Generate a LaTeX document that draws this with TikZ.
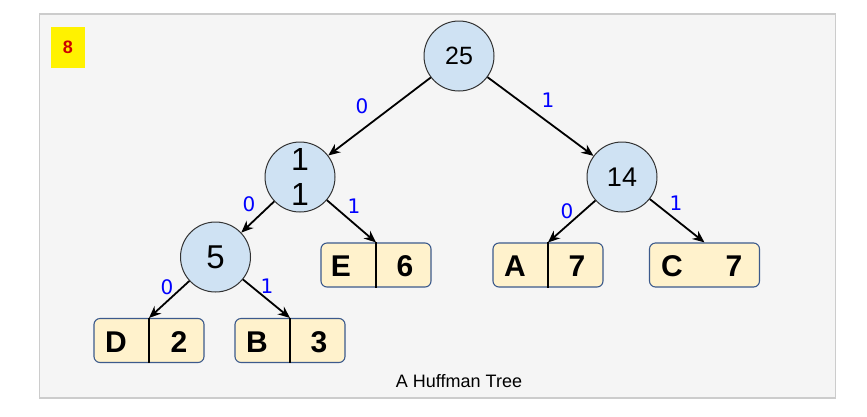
\documentclass[tikz,border=0pt]{standalone}
\usepackage{fontspec}
\setmainfont{Liberation Sans}
\newfontfamily\lblfont{DejaVu Sans}
\usetikzlibrary{arrows.meta}
\definecolor{panelbg}{HTML}{F5F5F5}
\definecolor{panelbd}{HTML}{CCCCCC}
\definecolor{circfill}{HTML}{CFE2F3}
\definecolor{leaffill}{HTML}{FFF2CC}
\definecolor{leafbd}{HTML}{3C5A8C}
\definecolor{badgered}{HTML}{CC0000}
\begin{document}
\begin{tikzpicture}[x=1pt,y=-1pt,
 innernode/.style={circle,draw=black!80,fill=circfill,line width=1pt,minimum size=70pt,inner sep=0pt},
 leaf/.style={rectangle,rounded corners=6pt,draw=leafbd,fill=leaffill,line width=1.1pt,minimum width=110pt,minimum height=44pt,inner sep=0pt},
 ltxt/.style={font=\fontsize{30}{32}\selectfont\bfseries,inner sep=0pt},
 bit/.style={font=\lblfont\fontsize{20}{22}\selectfont,text=blue,inner sep=0pt},
 arr/.style={-{Stealth[length=12pt,width=10pt]},line width=1.8pt},
 divider/.style={draw=black,line width=1.1pt}]
\useasboundingbox (0,0) rectangle (867,416);
\node[draw=panelbd,fill=panelbg,line width=1.2pt,minimum width=796pt,minimum height=384pt,inner sep=0pt] (panel) at (437.5,206) {};
\node[fill=yellow,minimum width=34pt,minimum height=41pt,inner sep=0pt,text=badgered,font=\fontsize{18}{20}\selectfont\bfseries] (badge) at (68,47.5) {8};
% internal nodes
\node[innernode,font=\fontsize{25}{27}\selectfont] (n25) at (459,56) {25};
\node[innernode,font=\fontsize{32}{35}\selectfont,align=center] (n11) at (300,177) {1\\1};
\node[innernode,font=\fontsize{27}{29}\selectfont] (n14) at (622,177) {14};
\node[innernode,font=\fontsize{33}{35}\selectfont] (n5) at (215.5,257) {5};
% leaves
\node[leaf] (D) at (149,340.5) {};
\node[leaf] (B) at (290,340.5) {};
\node[leaf] (E) at (376,265) {};
\node[leaf] (A) at (548,265) {};
\node[leaf] (C) at (704.5,265) {};
\draw[divider] (D.north) -- (D.south);
\draw[divider] (B.north) -- (B.south);
\draw[divider] (E.north) -- (E.south);
\draw[divider] (A.north) -- (A.south);
\node[ltxt] (Dl) at (116,342) {D};
\node[ltxt] (Dv) at (179,342) {2};
\node[ltxt] (Bl) at (257,342) {B};
\node[ltxt] (Bv) at (319,342) {3};
\node[ltxt] (El) at (341,266) {E};
\node[ltxt] (Ev) at (405,266) {6};
\node[ltxt] (Al) at (515,266) {A};
\node[ltxt] (Av) at (577,266) {7};
\node[ltxt] (Cl) at (672,266) {C};
\node[ltxt] (Cv) at (734,266) {7};
% edges
\draw[arr] (n25) -- (n11);
\draw[arr] (n25) -- (n14);
\draw[arr] (n11) -- (n5);
\draw[arr] (n11) -- (E.north);
\draw[arr] (n14) -- (A.north);
\draw[arr] (n14) -- (C.north);
\draw[arr] (n5) -- (D.north);
\draw[arr] (n5) -- (B.north);
% bit labels
\node[bit] (b1) at (362,106) {0};
\node[bit] (b2) at (548,100) {1};
\node[bit] (b3) at (249,204) {0};
\node[bit] (b4) at (354,206) {1};
\node[bit] (b5) at (567,211) {0};
\node[bit] (b6) at (676,203) {1};
\node[bit] (b7) at (167,287) {0};
\node[bit] (b8) at (267,286) {1};
% caption
\node[font=\fontsize{18}{20}\selectfont] (cap) at (459,381) {A Huffman Tree};
\end{tikzpicture}
\end{document}
